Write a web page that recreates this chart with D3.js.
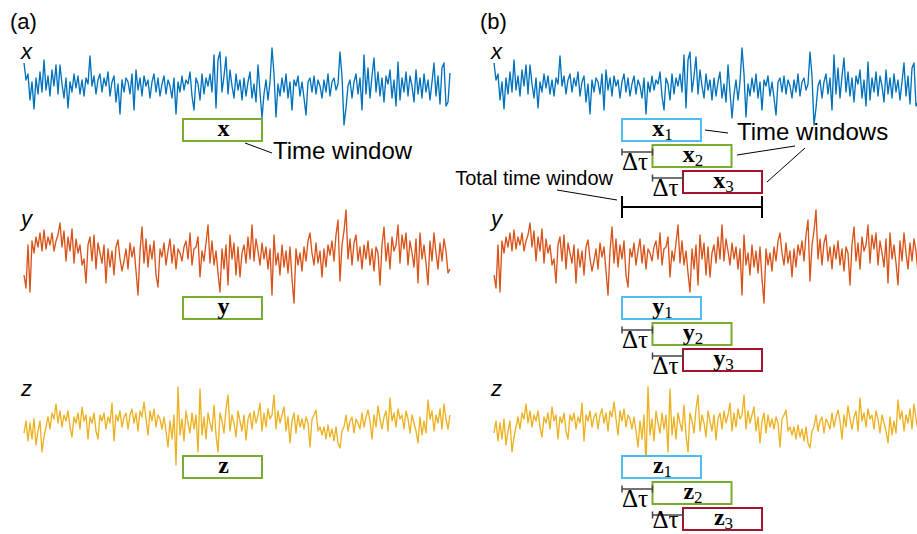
<!DOCTYPE html>
<html>
<head>
<meta charset="utf-8">
<script src="https://cdn.jsdelivr.net/npm/d3@7"></script>
<style>
  body { margin: 0; background: #fff; }
  svg { display: block; }
  .sans { font-family: "Liberation Sans", Arial, sans-serif; }
  .serif { font-family: "Liberation Serif", "Times New Roman", serif; }
</style>
</head>
<body>
<div id="vis"></div>
<script>
// signal amplitudes (up = positive)
var xValues = [
  25, 8, 14, -12, 6, -21, 10, -6, 16, -4,
  28, -2, 12, -8, 18, 2, 23, -6, 23, 4,
  -10, 10, -20, 6, -4, 14, 0, 12, -6, 8,
  -8, 10, 4, 32, 2, 12, -6, 8, 14, -4,
  10, 2, 16, -8, 6, 12, -14, 4, -26, 8,
  -4, 10, 6, -6, 14, -22, 18, -2, 10, -8,
  12, 2, 8, -10, 6, 14, -4, 10, -8, 4,
  12, -6, 8, 2, -10, 10, -26, 6, -4, 12,
  -2, 8, 4, 16, -8, -22, 10, 4, -12, 14,
  -6, 10, 2, 14, -4, 33, -20, 28, 36, -4,
  12, 31, -6, 18, 2, -10, 14, -2, 8, -12,
  10, -8, 6, 16, -10, 4, -14, 23, -4, -30,
  -6, 8, -12, 6, 40, 14, -29, 4, -8, 10,
  -4, 14, -10, 6, -22, 8, 2, 12, -8, 6,
  -10, -27, 6, 10, -4, 12, -6, 8, 2, -10,
  8, -4, 14, -8, 6, 10, -2, 4, 36, 12,
  -37, -20, 2, 8, -10, 6, 14, -6, 10, -22,
  33, -6, 20, -10, 12, 30, -4, 16, -8, 10,
  -14, 12, 4, 18, -10, 8, -18, 26, -12, 10,
  -4, 16, -8, 12, 2, -14, 18, -6, 10, -10,
  14, -4, 8, -12, 6, 25, -8, 12, -16, 20,
  25, -18, -14, 15
];
var yValues = [
  -20, -33, 10, -37, 14, 2, 18, 8, 22, 4,
  25, 6, 18, 10, 22, 4, 14, 20, 32, 8,
  24, -6, 18, 4, 26, -8, 16, 2, 10, -10,
  -4, -28, 10, 18, -6, 20, -14, 12, 2, -8,
  10, -28, 6, -12, 4, -20, 8, 15, -4, -16,
  -6, 6, -14, 12, -2, 8, -16, -40, 4, 28,
  -8, 16, -12, 10, -4, 14, -20, -32, 6, -2,
  12, -10, 4, 16, -8, 10, -14, 6, 2, -6,
  8, 14, -4, 22, -10, 6, 8, 18, -22, 4,
  -6, 12, 30, -8, 14, -10, 4, -18, -37, 6,
  -14, 10, -30, 20, -4, 12, -20, 8, -22, 2,
  10, -8, 18, -4, 30, -6, 16, 4, -10, 12,
  -4, 8, -14, 6, -40, 20, -10, 2, -20, 10,
  -12, 4, -18, 8, -24, -48, 6, -10, 2, -16,
  8, -6, 14, 22, 2, -10, 12, -8, 4, -22,
  6, -12, 10, 0, 14, -6, 20, 35, -26, 10,
  24, 45, -4, 16, -10, 12, 20, -6, 8, -14,
  10, -4, 14, -10, 6, -16, 8, 2, -30, 10,
  28, -6, 12, -14, 18, 4, 10, 30, -8, 20,
  6, 22, -10, 14, 2, -12, 16, -28, 22, -4,
  10, -8, -30, 14, -6, 22, 2, -14, 12, -6,
  16, 4, -18, -14
];
var zValues = [
  -8, 4, -16, 2, -14, 6, -20, -6, 4, -27,
  -12, -2, 8, -4, 12, 6, 21, 2, 14, -2,
  10, 4, 14, -2, -12, 8, 2, 12, -4, 18,
  4, 10, -14, 8, 2, 12, -6, -14, 10, 4,
  12, -4, 8, 2, 22, -16, 10, 4, 14, -2,
  8, 12, -4, 10, 16, 2, 12, -6, 14, 8,
  23, 6, -10, 14, 4, 16, -2, 10, 6, -4,
  8, -6, -22, 4, -14, 10, -40, 38, -10, 6,
  -16, 14, 2, -8, 12, -4, 10, -27, 36, -10,
  8, -14, 12, 2, -6, 20, -10, -27, 12, 4,
  -8, 16, 30, -6, 10, 2, -12, 14, 4, -6,
  10, -15, 6, 12, -4, 14, 2, 10, 22, -6,
  12, -2, 16, 6, 10, 30, -4, 14, 2, 10,
  18, -6, 8, -18, 4, 12, -8, 10, -2, 6,
  -4, 8, 2, -22, 6, 10, 15, -6, -2, -10,
  -2, -14, 0, -12, -4, -16, -2, -18, -23, -6,
  -2, 10, -6, 4, 8, -8, 6, 2, -4, 12,
  -2, 8, 15, 4, -14, 10, -2, 19, 6, -4,
  8, 14, -6, 27, 4, 12, -2, 16, 6, 10,
  -4, 14, 6, -8, 10, 2, -6, -18, 8, -10,
  4, -8, 25, 6, 14, -6, 10, 2, 16, -4,
  21, 6, -4, 10
];

var signalNames = ["x", "y", "z"];
var panelLabels = ["(a)", "(b)"];
var windowSubs = ["1", "2", "3"];
var signalColors = ["#0072BD", "#D95319", "#EDB120"];
var windowColors = ["#4DBEEE", "#77AC30", "#A2142F"];

var signals = [xValues, yValues, zValues];

var width = 917, height = 534;
var rowCentre = [88, 255, 425],
    boxTop = [119, 297, 456],
    panelShift = 470,
    traceLeft = 24, traceRight = 450,
    boxLeft = 183, boxW = 79, boxH = 22, step = 30.5, rowStep = 26;

var svg = d3.select("#vis").append("svg")
    .attr("width", width)
    .attr("height", height);

var amp = d3.scaleLinear().domain([-50, 50]).range([50, -50]);

// panel labels
panelLabels.forEach(function(lab, p) {
  svg.append("text").attr("class", "sans")
    .attr("x", 10 + p * panelShift).attr("y", 29)
    .style("font-size", "22px").text(lab);
});

[0, 1].forEach(function(p) {
  var off = p * panelShift;
  signals.forEach(function(vals, s) {
    var t = d3.scaleLinear().domain([0, vals.length - 1])
        .range([traceLeft + off, traceRight + off]);
    var line = d3.line()
        .x(function(d, i) { return t(i); })
        .y(function(d) { return rowCentre[s] + amp(d); });

    svg.append("path").datum(vals)
      .attr("d", line)
      .attr("fill", "none")
      .attr("stroke", signalColors[s])
      .attr("stroke-width", 1.35)
      .attr("stroke-linejoin", "round");

    svg.append("text").attr("class", "sans")
      .attr("x", 21 + off).attr("y", rowCentre[s] - 29)
      .style("font-size", "22px").style("font-style", "italic")
      .text(signalNames[s]);
  });
});

// panel (a): a single window per signal
signalNames.forEach(function(name, s) {
  svg.append("rect")
    .attr("x", boxLeft).attr("y", boxTop[s])
    .attr("width", boxW).attr("height", boxH)
    .attr("fill", "#fff").attr("stroke", windowColors[1]).attr("stroke-width", 2);
  svg.append("text").attr("class", "serif")
    .attr("x", boxLeft + boxW / 2 + 1).attr("y", boxTop[s] + 17)
    .attr("text-anchor", "middle")
    .style("font-size", "24px").style("font-weight", "bold")
    .text(name);
});

svg.append("line").attr("x1", 245).attr("y1", 143).attr("x2", 272).attr("y2", 153)
  .attr("stroke", "#000").attr("stroke-width", 1);
svg.append("text").attr("class", "sans")
  .attr("x", 273).attr("y", 159).style("font-size", "24px").text("Time window");

// panel (b): three shifted windows per signal
var bLeft = boxLeft + panelShift - 31;
signalNames.forEach(function(name, s) {
  windowSubs.forEach(function(sub, k) {
    var bx = bLeft + k * step, by = boxTop[s] + k * rowStep;
    svg.append("rect")
      .attr("x", bx).attr("y", by)
      .attr("width", boxW).attr("height", boxH)
      .attr("fill", "#fff").attr("stroke", windowColors[k]).attr("stroke-width", 2);
    var tx = svg.append("text").attr("class", "serif")
      .attr("x", bx + boxW / 2 + 1).attr("y", by + 17)
      .attr("text-anchor", "middle");
    tx.append("tspan").style("font-size", "24px").style("font-weight", "bold").text(name);
    tx.append("tspan").style("font-size", "17px").attr("dy", 4).text(sub);

    if (k > 0) {
      var x0 = bx - step, yb = by + 7;
      var g = svg.append("g").attr("stroke", "#444").attr("stroke-width", 1.5);
      g.append("line").attr("x1", x0).attr("x2", bx).attr("y1", yb).attr("y2", yb);
      g.append("line").attr("x1", x0).attr("x2", x0).attr("y1", yb - 3.5).attr("y2", yb + 3.5);
      g.append("line").attr("x1", bx).attr("x2", bx).attr("y1", yb - 3.5).attr("y2", yb + 3.5);
      svg.append("text").attr("class", "serif")
        .attr("x", x0).attr("y", Math.min(by + 25, 528))
        .style("font-size", "25px").text("\u0394\u03C4");
    }
  });
});

// labels and leaders in (b)
var leaders = [
  [705, 130, 728, 133],
  [737, 155, 795, 146],
  [767, 182, 805, 148],
  [557, 190, 617, 200]
];
leaders.forEach(function(l) {
  svg.append("line").attr("x1", l[0]).attr("y1", l[1]).attr("x2", l[2]).attr("y2", l[3])
    .attr("stroke", "#000").attr("stroke-width", 1);
});
svg.append("text").attr("class", "sans")
  .attr("x", 737).attr("y", 140).style("font-size", "24px").text("Time windows");
svg.append("text").attr("class", "sans")
  .attr("x", 613).attr("y", 185).attr("text-anchor", "end")
  .style("font-size", "20px").text("Total time window");

// total time window bracket
var tw0 = bLeft, tw1 = bLeft + 2 * step + boxW, twY = 207;
var tg = svg.append("g").attr("stroke", "#000").attr("stroke-width", 2);
tg.append("line").attr("x1", tw0).attr("x2", tw1).attr("y1", twY).attr("y2", twY);
tg.append("line").attr("x1", tw0).attr("x2", tw0).attr("y1", twY - 11).attr("y2", twY + 11);
tg.append("line").attr("x1", tw1).attr("x2", tw1).attr("y1", twY - 11).attr("y2", twY + 11);
</script>
</body>
</html>
